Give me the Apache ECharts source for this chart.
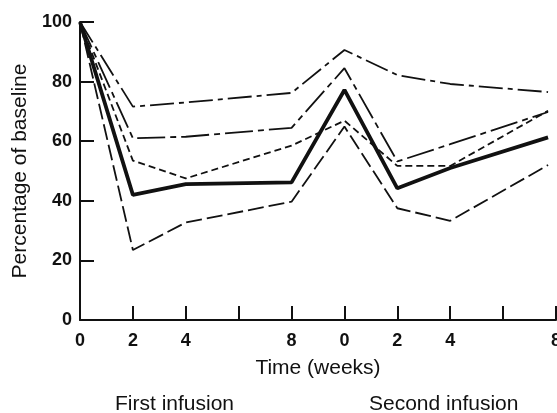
<!DOCTYPE html>
<html><head><meta charset="utf-8">
<script src="https://cdn.jsdelivr.net/npm/echarts@6/dist/echarts.min.js"></script>
<style>html,body{margin:0;padding:0;background:#fff}#c{width:557px;height:413px}</style>
</head><body><div id="c"></div>
<script>
// Tick labels (x positions 0..9 on the axis, two infusion periods)
var xTickLabels = ['0','2','4','','8','0','2','4','','8'];
// x positions of measurements (axis units, 1 unit = 2 weeks)
var xPos = [0, 1, 2, 4, 5, 6, 7, 8.85];
// Series values (% of baseline)
var seriesA = [100, 71.6, 73, 76.2, 90.6, 82.2, 79.2, 76.5];   // dash-dot, top
var seriesB = [100, 61, 61.5, 64.5, 84.5, 53.2, 59, 69.8];     // long dash-dot
var seriesC = [100, 53.5, 47.5, 58.5, 66.9, 51.7, 51.7, 70.2]; // short dash
var seriesMean = [100, 42, 45.6, 46.2, 77.2, 44.2, 51, 61.3];  // thick solid
var seriesD = [100, 23.5, 32.7, 39.7, 64.9, 37.5, 33.3, 52];   // long dash

function pairs(v){ return v.map(function(y,i){ return [xPos[i], y]; }); }

var lbl = {fontFamily:'Liberation Sans', fontWeight:'bold', fontSize:18, color:'#111'};
var ttl = {fontFamily:'Liberation Sans', fontSize:21, color:'#111'};

function ln(name, data, width, type){
  return {name:name, type:'line', data:pairs(data), symbol:'none', silent:true,
    lineStyle:{color:'#111', width:width, type:type}, animation:false};
}

var chart = echarts.init(document.getElementById('c'), null, {renderer:'canvas'});
chart.setOption({
  animation:false,
  grid:{left:80, right:1, top:22, bottom:93, containLabel:false, outerBoundsMode:'none'},
  xAxis:{type:'value', min:0, max:9, interval:1,
    name:'Time (weeks)', nameLocation:'middle', nameGap:38,
    nameTextStyle:ttl,
    axisLine:{lineStyle:{color:'#111', width:2}},
    axisTick:{inside:true, length:14, lineStyle:{color:'#111', width:2}},
    axisLabel:{margin:12, hideOverlap:false, formatter:function(v){ return xTickLabels[Math.round(v)]; }, showMaxLabel:true, showMinLabel:true, fontFamily:lbl.fontFamily, fontWeight:lbl.fontWeight, fontSize:lbl.fontSize, color:lbl.color},
    splitLine:{show:false}},
  yAxis:{type:'value', min:0, max:100, interval:20,
    name:'Percentage of baseline', nameLocation:'middle', nameGap:39,
    nameTextStyle:ttl,
    axisLine:{show:true, lineStyle:{color:'#111', width:2}},
    axisTick:{show:true, inside:true, length:14, lineStyle:{color:'#111', width:2}},
    axisLabel:{margin:8, fontFamily:lbl.fontFamily, fontWeight:lbl.fontWeight, fontSize:lbl.fontSize, color:lbl.color},
    splitLine:{show:false}},
  graphic:[
    {type:'text', left:185-70, top:394, style:{text:'First infusion', font:'21px "Liberation Sans"', fill:'#111'}},
    {type:'text', left:451-82, top:394, style:{text:'Second infusion', font:'21px "Liberation Sans"', fill:'#111'}}
  ],
  series:[
    ln('A', seriesA, 1.8, [24,5,5,5]),
    ln('B', seriesB, 1.8, [28,5,6,5]),
    ln('C', seriesC, 1.8, [7,4]),
    ln('D', seriesD, 1.8, [16,5]),
    ln('Mean', seriesMean, 3.8, 'solid')
  ]
});
</script></body></html>
